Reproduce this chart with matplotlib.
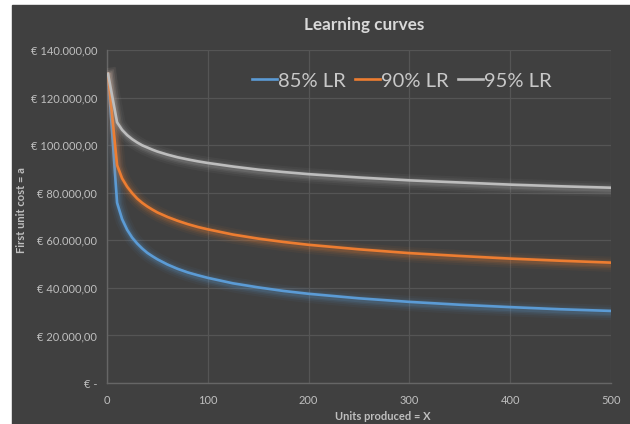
"""
Learning curves: unit cost vs. cumulative units produced for three learning rates.
"""

import matplotlib
matplotlib.use("Agg")
import matplotlib.pyplot as plt
import matplotlib.patheffects as pe
from matplotlib.lines import Line2D
from matplotlib.patches import Rectangle
from matplotlib.ticker import FuncFormatter

# cumulative units produced
units = [1, 10, 15, 20, 25, 30, 35, 40, 45, 50, 60, 70, 80, 90, 100, 125,
         150, 175, 200, 250, 300, 350, 400, 450, 500]

# unit cost (EUR) per learning rate
cost_85 = [130000, 75800, 68900, 64400, 61100, 58600, 56500, 54700, 53300,
           52000, 49800, 48000, 46500, 45300, 44200, 41900, 40200, 38700,
           37500, 35600, 34100, 32900, 31900, 31000, 30300]
cost_90 = [130000, 91600, 86000, 82500, 79800, 77500, 75700, 74200, 72900,
           71700, 69800, 68200, 66800, 65600, 64600, 62400, 60700, 59300,
           58100, 56200, 54600, 53400, 52300, 51400, 50600]
cost_95 = [130000, 109600, 106400, 104200, 102500, 101100, 99900, 99000,
           98100, 97300, 96000, 94900, 94000, 93200, 92500, 91000, 89700,
           88700, 87800, 86400, 85200, 84300, 83400, 82700, 82100]

series_labels = ["85% LR", "90% LR", "95% LR"]
series_colors = ["#5B9BD5", "#ED7D31", "#BDBDBD"]

BG = "#404040"
GRID = "#555555"
SPINE = "#666666"
TEXT = "#BFBFBF"
FONT = "Lato"


def euro(v, pos):
    if v == 0:
        return "€ -"
    s = f"{v:,.2f}".replace(",", "X").replace(".", ",").replace("X", ".")
    return f"€ {s}"


def glow(color):
    layers = [(11, 0.05), (8, 0.07), (5.5, 0.10), (3.5, 0.14)]
    effects = [pe.Stroke(linewidth=w, foreground=color, alpha=a, offset=(0.8, -1.2))
               for w, a in layers]
    return effects + [pe.Normal()]


fig = plt.figure(figsize=(6.3, 4.24), dpi=100, facecolor="white")
fig.patches.append(Rectangle((12 / 630, 0), 1 - 12 / 630, 1 - 5 / 424,
                             transform=fig.transFigure, color=BG, zorder=-10))

ax = fig.add_axes([107 / 630, 1 - 383 / 424, 504 / 630, 333 / 424])
ax.set_facecolor("none")
ax.set_zorder(1)

for ys, color in zip([cost_85, cost_90, cost_95], series_colors):
    ax.plot(units, ys, color=color, lw=1.9, solid_joinstyle="round",
            path_effects=glow(color), zorder=3)

ax.set_xlim(0, 500)
ax.set_ylim(0, 140000)
ax.set_xticks(range(0, 501, 100))
ax.set_yticks(range(0, 140001, 20000))
ax.yaxis.set_major_formatter(FuncFormatter(euro))

ax.grid(True, color=GRID, lw=0.9)
ax.set_axisbelow(True)
for side in ("top", "right"):
    ax.spines[side].set_visible(False)
for side in ("left", "bottom"):
    ax.spines[side].set_color(SPINE)
    ax.spines[side].set_linewidth(1.0)

ax.tick_params(length=0, colors=TEXT, labelsize=8)
ax.tick_params(axis="y", pad=7)
ax.tick_params(axis="x", pad=9)
for lab in ax.get_xticklabels() + ax.get_yticklabels():
    lab.set_fontfamily(FONT)

fig.text(364 / 630, 1 - 25 / 424, "Learning curves", ha="center", va="center",
         color="#D9D9D9", fontsize=12.3, fontweight="bold", family=FONT)
fig.text(383 / 630, 1 - 416 / 424, "Units produced = X", ha="center", va="center",
         color=TEXT, fontsize=8, fontweight="bold", family=FONT)
fig.text(22 / 630, 1 - 210 / 424, "First unit cost = a", ha="center", va="center",
         rotation=90, color=TEXT, fontsize=8, fontweight="bold", family=FONT)

handles = [Line2D([], [], color=c, lw=1.9) for c in series_colors]
ax.legend(handles, series_labels, loc="center", bbox_to_anchor=(0.585, 0.907),
          ncol=3, frameon=False, handlelength=1.25, handletextpad=0.05,
          columnspacing=0.45, labelcolor="#C8C8C8",
          prop={"family": FONT, "size": 14.5})

fig.savefig("out.png", dpi=100, facecolor=fig.get_facecolor())
